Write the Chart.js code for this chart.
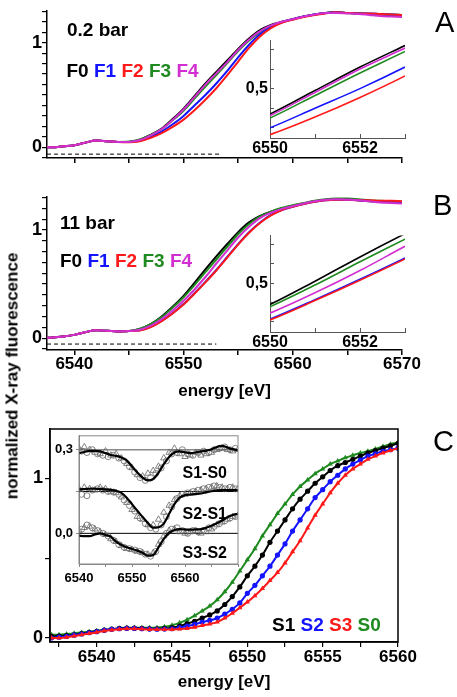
<!DOCTYPE html>
<html>
<head>
<meta charset="utf-8">
<script src="https://cdn.jsdelivr.net/npm/chart.js"></script>
<style>
  body { margin: 0; background: #fff; }
  #wrap { position: relative; width: 457px; height: 697px; overflow: hidden; background: #fff;
          font-family: "Liberation Sans", Arial, Helvetica, sans-serif; }
  canvas { position: absolute; }
  .lbl { position: absolute; white-space: nowrap; line-height: 1; font-weight: bold; }
</style>
</head>
<body>
<div id="wrap">
  <canvas id="cA" width="457" height="175" style="left:0;top:0"></canvas>
  <canvas id="cB" width="457" height="235" style="left:0;top:170px"></canvas>
  <canvas id="cC" width="457" height="292" style="left:0;top:405px"></canvas>
  <canvas id="cAi" width="190" height="140" style="left:230px;top:25px"></canvas>
  <canvas id="cBi" width="190" height="140" style="left:230px;top:220px"></canvas>
  <canvas id="cCi" width="220" height="165" style="left:30px;top:425px"></canvas>

  <div class="lbl" style="left:435px;top:8px;font-size:29px;font-weight:normal">A</div>
  <div class="lbl" style="left:433px;top:191px;font-size:29px;font-weight:normal">B</div>
  <div class="lbl" style="left:433px;top:427px;font-size:29px;font-weight:normal">C</div>

  <div class="lbl" style="left:67px;top:19.5px;font-size:19px">0.2 bar</div>
  <div class="lbl" style="left:66.5px;top:60.5px;font-size:19px">
    <span style="color:#000">F0</span> <span style="color:#1414ff">F1</span> <span style="color:#ff1a1a">F2</span> <span style="color:#1f8a1f">F3</span> <span style="color:#d22fd2">F4</span>
  </div>
  <div class="lbl" style="left:60px;top:212.5px;font-size:19px">11 bar</div>
  <div class="lbl" style="left:60px;top:250.5px;font-size:19px">
    <span style="color:#000">F0</span> <span style="color:#1414ff">F1</span> <span style="color:#ff1a1a">F2</span> <span style="color:#1f8a1f">F3</span> <span style="color:#d22fd2">F4</span>
  </div>
  <div class="lbl" style="left:272px;top:614.5px;font-size:19px">
    <span style="color:#000">S1</span> <span style="color:#1414ff">S2</span> <span style="color:#ff1a1a">S3</span> <span style="color:#1f8a1f">S0</span>
  </div>
  <div class="lbl" style="left:182.5px;top:464.6px;font-size:16px">S1-S0</div>
  <div class="lbl" style="left:182.5px;top:506.2px;font-size:16px">S2-S1</div>
  <div class="lbl" style="left:182.5px;top:544.6px;font-size:16px">S3-S2</div>

  <div class="lbl" style="left:12px;top:376px;font-size:17px;transform:translate(-50%,-50%) rotate(-90deg)">normalized X-ray fluorescence</div>
</div>

<script>
// ---- panels A and B: energy grid and the five traces (F0..F4)
const energyAB = [6537, 6538, 6539, 6540, 6541, 6542, 6543, 6544, 6545, 6546, 6547, 6548, 6549, 6550, 6551, 6552, 6553,
                  6554, 6555, 6556, 6557, 6558, 6559, 6560, 6561, 6562, 6563, 6564, 6565, 6566, 6567, 6568, 6569, 6570];

const f0A = [0.0, 0.0, 0.01, 0.02, 0.045, 0.065, 0.058, 0.05, 0.052, 0.072, 0.12, 0.18, 0.27, 0.37, 0.49, 0.61, 0.72,
             0.83, 0.94, 1.04, 1.12, 1.17, 1.2, 1.225, 1.25, 1.27, 1.285, 1.29, 1.285, 1.28, 1.275, 1.27, 1.265, 1.26];
const f1A = [0.0, 0.0, 0.01, 0.02, 0.045, 0.065, 0.058, 0.05, 0.05, 0.062, 0.1, 0.15, 0.22, 0.3, 0.4, 0.5, 0.61,
             0.73, 0.86, 0.98, 1.08, 1.15, 1.195, 1.225, 1.25, 1.27, 1.285, 1.29, 1.285, 1.28, 1.28, 1.275, 1.27, 1.265];
const f2A = [0.0, 0.0, 0.01, 0.02, 0.045, 0.065, 0.058, 0.05, 0.048, 0.058, 0.09, 0.135, 0.195, 0.265, 0.355, 0.455, 0.565,
             0.69, 0.82, 0.95, 1.06, 1.14, 1.19, 1.22, 1.245, 1.265, 1.28, 1.29, 1.285, 1.28, 1.28, 1.275, 1.27, 1.265];
const f3A = [0.0, 0.0, 0.01, 0.02, 0.045, 0.065, 0.058, 0.052, 0.055, 0.075, 0.118, 0.175, 0.258, 0.35, 0.465, 0.58, 0.69,
             0.805, 0.92, 1.02, 1.1, 1.16, 1.195, 1.225, 1.25, 1.27, 1.285, 1.29, 1.285, 1.28, 1.275, 1.27, 1.27, 1.265];
const f4A = [0.0, 0.0, 0.01, 0.02, 0.045, 0.065, 0.058, 0.05, 0.052, 0.07, 0.115, 0.175, 0.262, 0.362, 0.48, 0.6, 0.707,
             0.815, 0.93, 1.03, 1.11, 1.165, 1.2, 1.225, 1.25, 1.27, 1.285, 1.285, 1.28, 1.275, 1.265, 1.255, 1.25, 1.245];

const f0B = [0.0, 0.005, 0.015, 0.03, 0.055, 0.072, 0.068, 0.062, 0.065, 0.085, 0.13, 0.2, 0.29, 0.39, 0.51, 0.635, 0.755,
             0.87, 0.98, 1.07, 1.13, 1.17, 1.2, 1.225, 1.245, 1.265, 1.28, 1.285, 1.28, 1.275, 1.265, 1.26, 1.255, 1.25];
const f1B = [0.0, 0.005, 0.015, 0.03, 0.055, 0.072, 0.068, 0.062, 0.065, 0.072, 0.105, 0.16, 0.23, 0.315, 0.415, 0.52, 0.63,
             0.75, 0.87, 0.98, 1.07, 1.14, 1.185, 1.215, 1.24, 1.26, 1.275, 1.28, 1.28, 1.275, 1.27, 1.265, 1.265, 1.26];
const f2B = [0.0, 0.005, 0.015, 0.03, 0.055, 0.072, 0.068, 0.062, 0.065, 0.07, 0.102, 0.157, 0.228, 0.31, 0.41, 0.515, 0.625,
             0.745, 0.865, 0.975, 1.065, 1.135, 1.185, 1.215, 1.24, 1.26, 1.275, 1.28, 1.28, 1.275, 1.275, 1.27, 1.27, 1.265];
const f3B = [0.0, 0.005, 0.015, 0.03, 0.055, 0.072, 0.068, 0.062, 0.065, 0.088, 0.13, 0.195, 0.282, 0.378, 0.49, 0.61, 0.727,
             0.845, 0.96, 1.055, 1.125, 1.17, 1.205, 1.23, 1.25, 1.27, 1.285, 1.29, 1.29, 1.285, 1.275, 1.27, 1.265, 1.26];
const f4B = [0.0, 0.005, 0.015, 0.03, 0.055, 0.072, 0.068, 0.062, 0.065, 0.078, 0.115, 0.175, 0.255, 0.345, 0.45, 0.565, 0.69,
             0.81, 0.93, 1.03, 1.11, 1.16, 1.195, 1.22, 1.245, 1.265, 1.28, 1.285, 1.28, 1.275, 1.265, 1.255, 1.25, 1.245];

// dashed zero reference under the pre-edge
const dashEnergyA = [6537.5, 6553.5];
const dashA = [-0.065, -0.065];
const dashEnergyB = [6537.5, 6553];
const dashB = [-0.055, -0.055];

// ---- panel C: S-states, 0.5 eV grid
const energyC = [6537, 6537.5, 6538, 6538.5, 6539, 6539.5, 6540, 6540.5, 6541, 6541.5,
                 6542, 6542.5, 6543, 6543.5, 6544, 6544.5, 6545, 6545.5, 6546, 6546.5,
                 6547, 6547.5, 6548, 6548.5, 6549, 6549.5, 6550, 6550.5, 6551, 6551.5,
                 6552, 6552.5, 6553, 6553.5, 6554, 6554.5, 6555, 6555.5, 6556, 6556.5,
                 6557, 6557.5, 6558, 6558.5, 6559, 6559.5, 6560];
const s1C = [0.01, 0.012, 0.015, 0.02, 0.028, 0.035, 0.042, 0.05, 0.056, 0.06,
             0.062, 0.062, 0.06, 0.058, 0.058, 0.06, 0.065, 0.075, 0.09, 0.105,
             0.125, 0.145, 0.17, 0.21, 0.26, 0.32, 0.39, 0.45, 0.52, 0.6,
             0.67, 0.74, 0.81, 0.87, 0.92, 0.97, 1.01, 1.05, 1.08, 1.1,
             1.12, 1.14, 1.16, 1.175, 1.19, 1.205, 1.22];
const s2C = [0.0, 0.005, 0.01, 0.018, 0.025, 0.033, 0.04, 0.048, 0.055, 0.058,
             0.06, 0.06, 0.058, 0.056, 0.055, 0.056, 0.058, 0.065, 0.075, 0.085,
             0.1, 0.11, 0.125, 0.15, 0.18, 0.22, 0.28, 0.33, 0.39, 0.45,
             0.52, 0.59, 0.67, 0.74, 0.81, 0.88, 0.93, 0.98, 1.02, 1.06,
             1.09, 1.115, 1.14, 1.155, 1.17, 1.18, 1.19];
const s3C = [0.0, 0.0, 0.005, 0.012, 0.02, 0.028, 0.036, 0.044, 0.05, 0.055,
             0.058, 0.058, 0.056, 0.054, 0.053, 0.053, 0.054, 0.056, 0.06, 0.068,
             0.078, 0.088, 0.1, 0.125, 0.155, 0.19, 0.225, 0.265, 0.31, 0.36,
             0.41, 0.47, 0.54, 0.61, 0.69, 0.77, 0.84, 0.91, 0.97, 1.02,
             1.06, 1.09, 1.12, 1.14, 1.16, 1.175, 1.19];
const s0C = [0.02, 0.02, 0.025, 0.03, 0.035, 0.04, 0.045, 0.05, 0.055, 0.06,
             0.065, 0.065, 0.065, 0.065, 0.065, 0.07, 0.08, 0.095, 0.115, 0.14,
             0.17, 0.2, 0.24, 0.29, 0.35, 0.42, 0.49, 0.56, 0.64, 0.71,
             0.78, 0.84, 0.9, 0.95, 0.99, 1.03, 1.06, 1.09, 1.11, 1.13,
             1.145, 1.16, 1.17, 1.185, 1.2, 1.215, 1.225];

// ---- panel C inset: difference spectra (offset by 0.3 / 0.15 / 0)
const energyD = [6540, 6541, 6542, 6543, 6544, 6545, 6546, 6547, 6548, 6549, 6550, 6551, 6552, 6553, 6554, 6555,
                 6556, 6557, 6558, 6559, 6560, 6561, 6562, 6563, 6564, 6565, 6566, 6567, 6568, 6569, 6570];
const energyDHalf = [6540.5, 6541.5, 6542.5, 6543.5, 6544.5, 6545.5, 6546.5, 6547.5, 6548.5, 6549.5, 6550.5, 6551.5,
                     6552.5, 6553.5, 6554.5, 6555.5, 6556.5, 6557.5, 6558.5, 6559.5, 6560.5, 6561.5, 6562.5, 6563.5,
                     6564.5, 6565.5, 6566.5, 6567.5, 6568.5, 6569.5];

const fitS1S0 = [0.288, 0.292, 0.296, 0.296, 0.294, 0.288, 0.281, 0.278, 0.272, 0.262, 0.24, 0.218, 0.2, 0.19, 0.195, 0.218,
                 0.248, 0.274, 0.29, 0.294, 0.291, 0.288, 0.29, 0.294, 0.297, 0.302, 0.31, 0.314, 0.308, 0.302, 0.298];
const triS1S0 = [0.305, 0.31, 0.3, 0.29, 0.285, 0.295, 0.28, 0.285, 0.27, 0.25, 0.235, 0.21, 0.205, 0.215, 0.225, 0.24,
                 0.27, 0.29, 0.305, 0.285, 0.275, 0.28, 0.29, 0.28, 0.285, 0.29, 0.3, 0.305, 0.3, 0.295, 0.3];
const cirS1S0 = [0.295, 0.29, 0.3, 0.285, 0.28, 0.275, 0.28, 0.27, 0.26, 0.24, 0.22, 0.2, 0.19, 0.2, 0.215,
                 0.235, 0.26, 0.285, 0.29, 0.3, 0.285, 0.28, 0.29, 0.295, 0.29, 0.3, 0.305, 0.31, 0.3, 0.305];

const fitS2S1 = [0.158, 0.159, 0.16, 0.16, 0.159, 0.158, 0.156, 0.153, 0.145, 0.128, 0.105, 0.081, 0.059, 0.037, 0.02, 0.022,
                 0.035, 0.07, 0.105, 0.128, 0.137, 0.139, 0.141, 0.143, 0.147, 0.151, 0.154, 0.155, 0.155, 0.155, 0.155];
const triS2S1 = [0.16, 0.165, 0.16, 0.155, 0.165, 0.16, 0.15, 0.145, 0.13, 0.11, 0.085, 0.06, 0.05, 0.03, 0.03, 0.05,
                 0.075, 0.1, 0.12, 0.135, 0.14, 0.145, 0.15, 0.155, 0.16, 0.165, 0.17, 0.165, 0.16, 0.165, 0.16];
const cirS2S1 = [0.14, 0.135, 0.155, 0.16, 0.155, 0.15, 0.148, 0.14, 0.12, 0.1, 0.08, 0.055, 0.035, 0.02, 0.015,
                 0.03, 0.06, 0.095, 0.125, 0.14, 0.145, 0.15, 0.155, 0.16, 0.165, 0.17, 0.165, 0.16, 0.165, 0.16];

const fitS3S2 = [-0.008, -0.01, -0.01, -0.004, 0.0, -0.006, -0.012, -0.03, -0.042, -0.05, -0.056, -0.062, -0.07, -0.08, -0.078,
                 -0.05, -0.02, 0.002, 0.012, 0.015, 0.014, 0.013, 0.014, 0.015, 0.02, 0.027, 0.036, 0.046, 0.058, 0.066, 0.07];
const triS3S2 = [0.01, 0.02, 0.025, 0.015, 0.005, -0.005, -0.02, -0.03, -0.045, -0.055, -0.058, -0.065, -0.07, -0.075, -0.07,
                 -0.04, -0.01, 0.01, 0.015, 0.005, 0.0, 0.005, 0.01, 0.0, 0.005, 0.015, 0.03, 0.04, 0.05, 0.06, 0.065];
const cirS3S2 = [0.015, 0.03, 0.02, 0.01, 0.0, -0.01, -0.025, -0.04, -0.05, -0.055, -0.06, -0.065, -0.075, -0.082, -0.065,
                 -0.03, 0.0, 0.015, 0.02, 0.01, 0.0, 0.01, 0.005, 0.01, 0.02, 0.025, 0.035, 0.045, 0.055, 0.06];

const baseEnergyD = [6540, 6570];
const baseS1S0 = [0.3, 0.3];
const baseS2S1 = [0.15, 0.15];
const baseS3S2 = [0, 0];

const BLACK = '#000000', BLUE = '#1414ff', RED = '#ff1a1a', GREEN = '#1f8a1f', MAGENTA = '#d22fd2';

Chart.defaults.font.family = '"Liberation Sans", Arial, Helvetica, sans-serif';
Chart.defaults.color = '#000';
Chart.defaults.animation = false;
Chart.defaults.plugins.legend.display = false;
Chart.defaults.plugins.tooltip.enabled = false;

function xy(xs, ys) {
    return xs.map(function(x, i) { return { x: x, y: ys[i] }; });
}

function curve(xs, ys, color, width) {
    return {
        data: xy(xs, ys),
        borderColor: color,
        borderWidth: width,
        pointRadius: 0,
        cubicInterpolationMode: 'monotone',
        fill: false
    };
}

function dashed(xs, ys) {
    return { data: xy(xs, ys), borderColor: '#000', borderWidth: 1, borderDash: [4, 3], pointRadius: 0, fill: false };
}

function markers(xs, ys, color, style, radius, open) {
    return {
        data: xy(xs, ys),
        showLine: false,
        pointStyle: style,
        pointRadius: radius,
        pointBackgroundColor: open ? 'rgba(0,0,0,0)' : color,
        pointBorderColor: color,
        pointBorderWidth: open ? 0.8 : 0
    };
}

// label only the integer positions 0 and 1 on the y axis
function zeroOne(v) {
    if (Math.abs(v) < 1e-9) return '0';
    if (Math.abs(v - 1) < 1e-9) return '1';
    return '';
}

// draws a closed box around the plotting area
const framePlugin = {
    id: 'frame',
    afterDraw(chart, args, opts) {
        const a = chart.chartArea;
        const ctx = chart.ctx;
        ctx.save();
        ctx.strokeStyle = opts.color;
        ctx.lineWidth = opts.width;
        ctx.strokeRect(a.left, a.top, a.right - a.left, a.bottom - a.top);
        ctx.restore();
    }
};

function mainAxes(xLabels, yMin, yMax) {
    return {
        x: {
            type: 'linear', min: 6537.5, max: 6570,
            afterFit: function(s) { s.height = xLabels ? 55 : 17; },
            border: { color: '#000', width: 1.5 },
            grid: { drawOnChartArea: false, color: '#000', lineWidth: 1.5, tickLength: 5 },
            ticks: {
                stepSize: 5, includeBounds: false, autoSkip: false, maxRotation: 0, minRotation: 0, padding: -1,
                font: { size: 17, weight: 'bold' },
                callback: function(v) { return (xLabels && v % 10 === 0) ? String(v) : ''; }
            },
            title: {
                display: xLabels, text: 'energy [eV]', font: { size: 17, weight: 'bold' },
                padding: { top: 0, bottom: 3 }
            }
        },
        y: {
            min: yMin, max: yMax,
            afterFit: function(s) { s.width = 47; },
            border: { color: '#000', width: 1.5 },
            grid: { drawOnChartArea: false, color: '#000', lineWidth: 1.2, tickLength: 5 },
            ticks: {
                stepSize: 0.1, includeBounds: false, autoSkip: false, padding: 0,
                font: { size: 18, weight: 'bold' }, callback: zeroOne
            }
        }
    };
}

function insetAxes(xHeight, xPad) {
    return {
        x: {
            type: 'linear', min: 6550, max: 6553,
            afterFit: function(s) { s.height = xHeight; },
            border: { color: '#555', width: 1 },
            grid: { drawOnChartArea: false, color: '#555', lineWidth: 1, tickLength: -4 },
            ticks: {
                stepSize: 1, autoSkip: false, maxRotation: 0, minRotation: 0, padding: xPad,
                font: { size: 16, weight: 'bold' },
                callback: function(v) { return (v === 6550 || v === 6552) ? String(v) : ''; }
            }
        },
        y: {
            min: 0.248, max: 0.745,
            afterFit: function(s) { s.width = 40; },
            border: { color: '#555', width: 1 },
            grid: { drawOnChartArea: false, color: '#555', lineWidth: 1, tickLength: -4 },
            ticks: {
                stepSize: 0.1, includeBounds: false, autoSkip: false, padding: 6,
                font: { size: 16, weight: 'bold' },
                callback: function(v) { return Math.abs(v - 0.5) < 1e-9 ? '0,5' : ''; }
            }
        }
    };
}

// panel A
new Chart(document.getElementById('cA'), {
    type: 'line',
    data: { datasets: [
        curve(energyAB, f4A, MAGENTA, 2),
        curve(energyAB, f2A, RED, 2),
        curve(energyAB, f1A, BLUE, 2),
        curve(energyAB, f3A, GREEN, 2),
        curve(energyAB, f0A, BLACK, 2),
        dashed(dashEnergyA, dashA)
    ]},
    options: {
        responsive: false,
        layout: { padding: { left: 0, top: 6, right: 55, bottom: 0 } },
        scales: mainAxes(false, -0.102, 1.305)
    }
});

new Chart(document.getElementById('cAi'), {
    type: 'line',
    data: { datasets: [
        curve(energyAB, f4A, MAGENTA, 1.6),
        curve(energyAB, f3A, GREEN, 1.6),
        curve(energyAB, f1A, BLUE, 1.6),
        curve(energyAB, f2A, RED, 1.6),
        curve(energyAB, f0A, BLACK, 1.6)
    ]},
    options: {
        responsive: false,
        layout: { padding: { left: 0, top: 14, right: 15, bottom: 0 } },
        scales: insetAxes(27, 5)
    }
});

// panel B
new Chart(document.getElementById('cB'), {
    type: 'line',
    data: { datasets: [
        curve(energyAB, f4B, MAGENTA, 2),
        curve(energyAB, f2B, RED, 2),
        curve(energyAB, f1B, BLUE, 2),
        curve(energyAB, f3B, GREEN, 2),
        curve(energyAB, f0B, BLACK, 2),
        dashed(dashEnergyB, dashB)
    ]},
    options: {
        responsive: false,
        layout: { padding: { left: 0, top: 27, right: 55, bottom: 0 } },
        scales: mainAxes(true, -0.11, 1.305)
    }
});

new Chart(document.getElementById('cBi'), {
    type: 'line',
    data: { datasets: [
        curve(energyAB, f2B, RED, 1.6),
        curve(energyAB, f1B, BLUE, 1.6),
        curve(energyAB, f4B, MAGENTA, 1.6),
        curve(energyAB, f3B, GREEN, 1.6),
        curve(energyAB, f0B, BLACK, 1.6)
    ]},
    options: {
        responsive: false,
        layout: { padding: { left: 0, top: 12, right: 15, bottom: 0 } },
        scales: insetAxes(28, 4.5)
    }
});

// panel C
function stateCurve(ys, color, style) {
    const ds = curve(energyC, ys, color, 2);
    ds.pointStyle = style;
    ds.pointRadius = style === 'triangle' ? 3 : 2.6;
    ds.pointBackgroundColor = color;
    ds.pointBorderColor = color;
    ds.pointBorderWidth = 0;
    return ds;
}

new Chart(document.getElementById('cC'), {
    type: 'line',
    data: { datasets: [
        stateCurve(s3C, RED, 'triangle'),
        stateCurve(s2C, BLUE, 'circle'),
        stateCurve(s1C, BLACK, 'circle'),
        stateCurve(s0C, GREEN, 'triangle')
    ]},
    plugins: [framePlugin],
    options: {
        responsive: false,
        layout: { padding: { left: 0, top: 24, right: 59, bottom: 0 } },
        plugins: { frame: { color: '#000', width: 1.5 } },
        scales: {
            x: {
                type: 'linear', min: 6536.9, max: 6560,
                afterFit: function(s) { s.height = 55; },
                border: { color: '#000', width: 1.5 },
                grid: { drawOnChartArea: false, color: '#000', lineWidth: 1.2, tickLength: 5 },
                ticks: {
                    stepSize: 2.5, includeBounds: false, autoSkip: false, maxRotation: 0, minRotation: 0, padding: 0,
                    font: { size: 17, weight: 'bold' },
                    callback: function(v) { return v % 5 === 0 ? String(v) : ''; }
                },
                title: { display: true, text: 'energy [eV]', font: { size: 17, weight: 'bold' }, padding: { top: 0, bottom: 4 } }
            },
            y: {
                min: -0.025, max: 1.31,
                afterFit: function(s) { s.width = 50; },
                border: { color: '#000', width: 1.5 },
                grid: { drawOnChartArea: false, color: '#000', lineWidth: 1.2, tickLength: 5 },
                ticks: {
                    stepSize: 0.5, includeBounds: false, autoSkip: false, padding: 2,
                    font: { size: 18, weight: 'bold' }, callback: zeroOne
                }
            }
        }
    }
});

// panel C inset
new Chart(document.getElementById('cCi'), {
    type: 'line',
    data: { datasets: [
        curve(energyD, fitS1S0, BLACK, 2.2),
        curve(energyD, fitS2S1, BLACK, 2.2),
        curve(energyD, fitS3S2, BLACK, 2.2),
        markers(energyD, triS1S0, '#666', 'triangle', 3.6, true),
        markers(energyDHalf, cirS1S0, '#666', 'circle', 3, true),
        markers(energyD, triS2S1, '#666', 'triangle', 3.6, true),
        markers(energyDHalf, cirS2S1, '#666', 'circle', 3, true),
        markers(energyD, triS3S2, '#666', 'triangle', 3.6, true),
        markers(energyDHalf, cirS3S2, '#666', 'circle', 3, true),
        { data: xy(baseEnergyD, baseS1S0), borderColor: '#888', borderWidth: 1.5, pointRadius: 0 },
        { data: xy(baseEnergyD, baseS2S1), borderColor: '#000', borderWidth: 1, pointRadius: 0 },
        { data: xy(baseEnergyD, baseS3S2), borderColor: '#000', borderWidth: 1, pointRadius: 0 }
    ]},
    plugins: [framePlugin],
    options: {
        responsive: false,
        layout: { padding: { left: 0, top: 10, right: 12, bottom: 0 } },
        plugins: { frame: { color: '#888', width: 1 } },
        scales: {
            x: {
                type: 'linear', min: 6540, max: 6570,
                afterFit: function(s) { s.height = 26; },
                border: { color: '#888', width: 1 },
                grid: { drawOnChartArea: false, color: '#888', lineWidth: 1, tickLength: 3 },
                ticks: {
                    stepSize: 5, autoSkip: false, maxRotation: 0, minRotation: 0, padding: 4,
                    font: { size: 13, weight: 'bold' },
                    callback: function(v) { return (v === 6540 || v === 6550 || v === 6560) ? String(v) : ''; }
                }
            },
            y: {
                min: -0.11, max: 0.35,
                afterFit: function(s) { s.width = 49; },
                border: { color: '#888', width: 1 },
                grid: { drawOnChartArea: false, color: '#888', lineWidth: 1, tickLength: 3 },
                ticks: {
                    stepSize: 0.15, includeBounds: false, autoSkip: false, padding: 3,
                    font: { size: 13, weight: 'bold' },
                    callback: function(v) {
                        if (Math.abs(v - 0.3) < 1e-9) return '0,3';
                        if (Math.abs(v) < 1e-9) return '0,0';
                        return '';
                    }
                }
            }
        }
    }
});
</script>
</body>
</html>
